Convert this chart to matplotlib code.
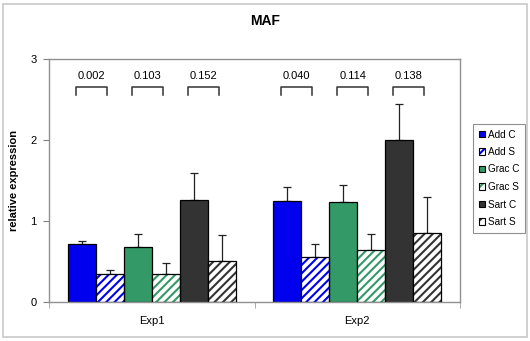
import numpy as np
import matplotlib
matplotlib.use('Agg')
import matplotlib.pyplot as plt
from matplotlib.patches import Patch, Rectangle

plt.rcParams['font.family'] = ['Liberation Sans', 'DejaVu Sans']
plt.rcParams['hatch.linewidth'] = 1.5

groups = ['Exp1', 'Exp2']
series = ['Add C', 'Add S', 'Grac C', 'Grac S', 'Sart C', 'Sart S']
values = [[0.72, 0.34, 0.68, 0.34, 1.26, 0.51],
          [1.25, 0.55, 1.23, 0.64, 2.00, 0.85]]
errors = [[0.03, 0.05, 0.155, 0.145, 0.33, 0.32],
          [0.175, 0.165, 0.21, 0.20, 0.44, 0.45]]
pvals = [['0.002', '0.103', '0.152'],
         ['0.040', '0.114', '0.138']]

colors = ['#0000ee', '#0000ee', '#339966', '#339966', '#333333', '#333333']
hatched = [False, True, False, True, False, True]

fig = plt.figure(figsize=(5.3, 3.41), dpi=100)
fig.patches.append(Rectangle((3/530, 4/341), 524/530, 333/341, transform=fig.transFigure,
                             fill=False, edgecolor='#c8c8c8', lw=1.2, zorder=-1))
ax = fig.add_axes([49/530, 1 - 302/341, 411/530, 243/341])

vals = np.array(values)
errs = np.array(errors)
x = np.arange(len(groups))
w = 0.136
handles = []
for i, s in enumerate(series):
    pos = x + (i - 2.5) * w
    if hatched[i]:
        ax.bar(pos, vals[:, i], w, color='white', edgecolor=colors[i], hatch='////', lw=0, zorder=2)
        ax.bar(pos, vals[:, i], w, fill=False, edgecolor='black', lw=0.9, zorder=3)
        h = (Patch(facecolor='white', edgecolor=colors[i], hatch='///', lw=0),
             Patch(fill=False, edgecolor='black', lw=0.8))
    else:
        ax.bar(pos, vals[:, i], w, color=colors[i], edgecolor='black', lw=0.9, zorder=2)
        h = Patch(facecolor=colors[i], edgecolor='black', lw=0.8)
    ax.errorbar(pos, vals[:, i], yerr=[np.zeros(len(groups)), errs[:, i]], fmt='none',
                ecolor='#222222', elinewidth=0.9, capsize=3, capthick=0.9, zorder=1)
    handles.append(h)

# significance brackets
for g in range(len(groups)):
    for k in range(3):
        c1 = x[g] + (2 * k - 2.5) * w - 0.03
        c2 = x[g] + (2 * k + 1 - 2.5) * w - 0.015
        ax.plot([c1, c1, c2, c2], [2.56, 2.65, 2.65, 2.56], color='#333333', lw=1.1, zorder=4)
        ax.text((c1 + c2) / 2, 2.73, pvals[g][k], ha='center', va='bottom', fontsize=8)

ax.set_xlim(-0.5, 1.5)
ax.set_ylim(0, 3)
ax.set_yticks([0, 1, 2, 3])
ax.set_xticks(x)
ax.set_xticklabels(groups, fontsize=8)
ax.tick_params(axis='x', length=0, pad=10)
ax.set_xticks([-0.5, 0.5, 1.5], minor=True)
ax.tick_params(axis='x', which='minor', length=4, color='#a0a0a0')
ax.tick_params(axis='y', labelsize=8, length=4, color='#808080', pad=5)
for sp in ax.spines.values():
    sp.set_color('#909090')
    sp.set_linewidth(1.0)

ax.set_ylabel('relative expression', fontsize=8, fontweight='bold', labelpad=8)
fig.text(0.5, 1 - 21/341, 'MAF', ha='center', va='center', fontsize=10, fontweight='bold')

leg = ax.legend(handles, series, loc='upper left', bbox_to_anchor=(473/530, 1 - 124/341),
                bbox_transform=fig.transFigure, fontsize=7.2, handlelength=0.65, handleheight=0.65,
                handletextpad=0.25, labelspacing=0.75, borderpad=0.55, borderaxespad=0,
                fancybox=False, framealpha=1, edgecolor='#909090')
leg.get_frame().set_linewidth(0.8)

fig.savefig('out.png', dpi=100)
